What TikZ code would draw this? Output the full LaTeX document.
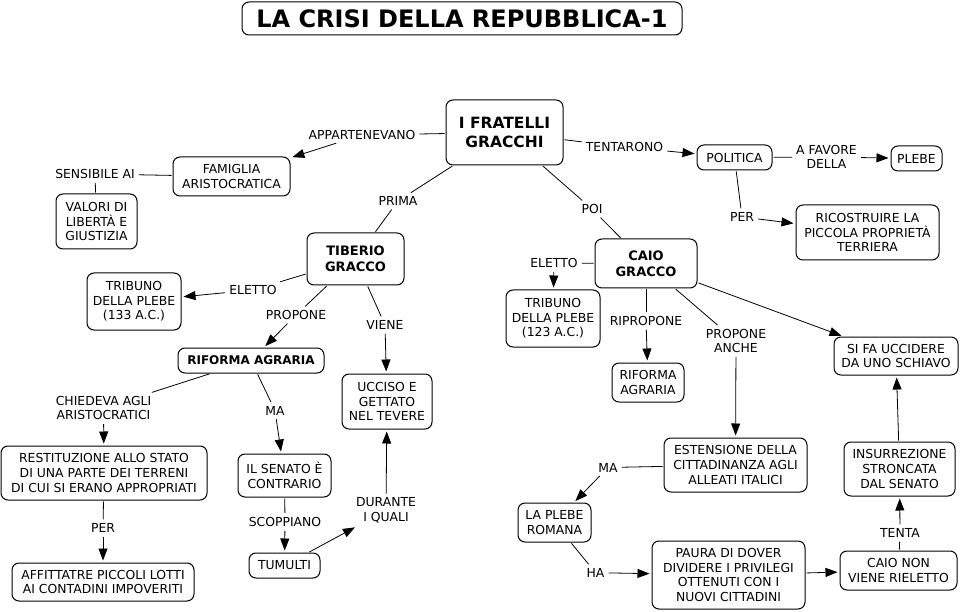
\documentclass[tikz,border=0pt]{standalone}
\usepackage{fontspec}
\setmainfont{DejaVu Sans}
\usetikzlibrary{arrows.meta}
\newcommand{\nf}{\fontsize{12.4}{14.7}\selectfont}
\begin{document}
\begin{tikzpicture}[x=1pt,y=-1pt,
  box/.style={draw, rounded corners=7pt, line width=1pt, align=center, inner sep=0pt, font=\nf},
  lab/.style={align=center, inner sep=3pt, font=\nf},
  con/.style={line width=0.8pt, shorten <=1pt, shorten >=1pt},
  arr/.style={line width=0.8pt, shorten <=1pt, shorten >=2pt, -{Triangle[length=12pt,width=9pt]}}]
\useasboundingbox (0,0) rectangle (961,612);
% title
\node[box, minimum width=440pt, minimum height=33pt, font=\fontsize{24}{28}\selectfont\bfseries] (title) at (462,18.5) {LA CRISI DELLA REPUBBLICA-1};
% boxes
\node[box, minimum width=117pt, minimum height=65pt, font=\fontsize{15.5}{19}\selectfont\bfseries] (fr) at (504.5,132.5) {I FRATELLI\\GRACCHI};
\node[box, minimum width=117pt, minimum height=39pt] (fam) at (231.5,176.5) {FAMIGLIA\\ARISTOCRATICA};
\node[box, minimum width=81pt, minimum height=55pt] (val) at (96.5,221.5) {VALORI DI\\LIBERTÀ E\\GIUSTIZIA};
\node[box, minimum width=97pt, minimum height=52pt, font=\fontsize{13}{16}\selectfont\bfseries] (tib) at (355.5,259) {TIBERIO\\GRACCO};
\node[box, minimum width=94pt, minimum height=57pt] (tr1) at (134,301.5) {TRIBUNO\\DELLA PLEBE\\(133 A.C.)};
\node[box, minimum width=146pt, minimum height=25pt, font=\fontsize{12}{14.6}\selectfont\bfseries] (rif1) at (251,360.5) {RIFORMA AGRARIA};
\node[box, minimum width=90pt, minimum height=55pt] (ucc) at (387,401.5) {UCCISO E\\GETTATO\\NEL TEVERE};
\node[box, minimum width=206pt, minimum height=54pt] (res) at (104,473) {RESTITUZIONE ALLO STATO\\DI UNA PARTE DEI TERRENI\\DI CUI SI ERANO APPROPRIATI};
\node[box, minimum width=182pt, minimum height=38pt] (aff) at (103,582) {AFFITTATRE PICCOLI LOTTI\\AI CONTADINI IMPOVERITI};
\node[box, minimum width=93pt, minimum height=43pt] (sen) at (284.5,475.5) {IL SENATO È\\CONTRARIO};
\node[box, minimum width=71pt, minimum height=25pt] (tum) at (284.5,565.5) {TUMULTI};
\node[box, minimum width=75pt, minimum height=25pt] (pol) at (734.5,157.5) {POLITICA};
\node[box, minimum width=51pt, minimum height=25pt] (ple) at (916.5,158.5) {PLEBE};
\node[box, minimum width=143pt, minimum height=55pt] (ric) at (867.5,232.5) {RICOSTRUIRE LA\\PICCOLA PROPRIETÀ\\TERRIERA};
\node[box, minimum width=102pt, minimum height=49pt, font=\fontsize{13}{16}\selectfont\bfseries] (cai) at (646,263.5) {CAIO\\GRACCO};
\node[box, minimum width=94pt, minimum height=57pt] (tr2) at (553,318.5) {TRIBUNO\\DELLA PLEBE\\(123 A.C.)};
\node[box, minimum width=72pt, minimum height=39pt] (rif2) at (648,382.5) {RIFORMA\\AGRARIA};
\node[box, minimum width=124pt, minimum height=38pt] (sif) at (896,356) {SI FA UCCIDERE\\DA UNO SCHIAVO};
\node[box, minimum width=143pt, minimum height=54pt] (est) at (735.5,465) {ESTENSIONE DELLA\\CITTADINANZA AGLI\\ALLEATI ITALICI};
\node[box, minimum width=73pt, minimum height=39pt] (pro) at (554.5,522.5) {LA PLEBE\\ROMANA};
\node[box, minimum width=153pt, minimum height=68pt] (pau) at (728.5,575) {PAURA DI DOVER\\DIVIDERE I PRIVILEGI\\OTTENUTI CON I\\NUOVI CITTADINI};
\node[box, minimum width=117pt, minimum height=39pt] (cnr) at (898.5,570.5) {CAIO NON\\VIENE RIELETTO};
\node[box, minimum width=111pt, minimum height=54pt] (ins) at (899.5,469) {INSURREZIONE\\STRONCATA\\DAL SENATO};
% labels
\node[lab] (lapp) at (362,135) {APPARTENEVANO};
\node[lab] (lsen) at (95,174) {SENSIBILE AI};
\node[lab] (lpri) at (398,201) {PRIMA};
\node[lab] (lel1) at (253,290) {ELETTO};
\node[lab] (lpro) at (296,315) {PROPONE};
\node[lab] (lvie) at (385,325) {VIENE};
\node[lab] (lchi) at (103.5,408) {CHIEDEVA AGLI\\ARISTOCRATICI};
\node[lab] (lper1) at (103,528) {PER};
\node[lab] (lma1) at (275,410.5) {MA};
\node[lab] (lsco) at (285,522) {SCOPPIANO};
\node[lab] (ldur) at (386,510.5) {DURANTE\\I QUALI};
\node[lab] (lten) at (624.5,147) {TENTARONO};
\node[lab] (lfav) at (826.5,157) {A FAVORE\\DELLA};
\node[lab] (lper2) at (742,217) {PER};
\node[lab] (lpoi) at (592,209) {POI};
\node[lab] (lel2) at (554,263) {ELETTO};
\node[lab] (lrip) at (646,320.5) {RIPROPONE};
\node[lab] (lpra) at (736,341) {PROPONE\\ANCHE};
\node[lab] (lma2) at (608,467.5) {MA};
\node[lab] (lha) at (595.5,572.7) {HA};
\node[lab] (ltenta) at (900,533) {TENTA};
% connectors
\draw[con] (fr) -- (lapp); \draw[arr] (lapp) -- (fam);
\draw[con] (fam) -- (lsen); \draw[con] (lsen) -- (val);
\draw[con] (fr) -- (lpri); \draw[con] (lpri) -- (tib);
\draw[con] (tib) -- (lel1); \draw[arr] (lel1) -- (tr1);
\draw[con] (tib) -- (lpro); \draw[arr] (lpro) -- (rif1);
\draw[con] (tib) -- (lvie); \draw[arr] (lvie) -- (ucc);
\draw[con] (rif1) -- (lchi); \draw[arr] (lchi) -- (res);
\draw[con] (res) -- (lper1); \draw[arr] (lper1) -- (aff);
\draw[con] (rif1) -- (lma1); \draw[arr] (lma1) -- (sen);
\draw[con] (sen) -- (lsco); \draw[arr] (lsco) -- (tum);
\draw[arr] (tum) -- (ldur); \draw[arr] (ldur) -- (ucc);
\draw[con] (fr) -- (lten); \draw[arr] (lten) -- (pol);
\draw[con] (pol) -- (lfav); \draw[arr] (lfav) -- (ple);
\draw[con] (pol) -- (lper2); \draw[arr] (lper2) -- (ric);
\draw[con] (fr) -- (lpoi); \draw[con] (lpoi) -- (cai);
\draw[con] (cai) -- (lel2); \draw[arr] (lel2) -- (tr2);
\draw[con] (cai) -- (lrip); \draw[arr] (lrip) -- (rif2);
\draw[con] (cai) -- (lpra); \draw[arr] (lpra) -- (est);
\draw[arr] (cai) -- (sif);
\draw[con] (est) -- (lma2); \draw[arr] (lma2) -- (pro);
\draw[con] (pro) -- (lha); \draw[arr] (lha) -- (pau);
\draw[arr] (pau) -- (cnr);
\draw[con] (cnr) -- (ltenta); \draw[arr] (ltenta) -- (ins);
\draw[arr] (ins) -- (sif);
\end{tikzpicture}
\end{document}
